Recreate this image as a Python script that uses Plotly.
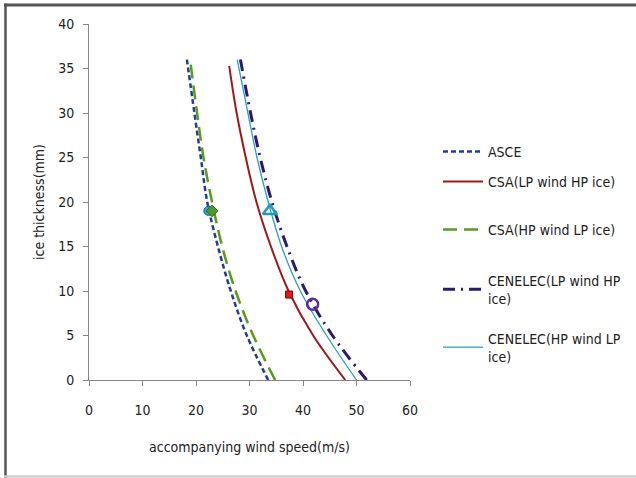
import plotly.graph_objects as go

# ---- data ----
ice_levels = [0, 5, 10, 15, 20, 25, 30, 36]
asce_wind = [33.5, 29.5, 26.5, 24.1, 22.1, 20.9, 19.7, 18.3]
csa_hp_wind = [34.8, 30.7, 27.4, 24.9, 23.0, 21.4, 20.2, 18.9]
csa_lp_ice = [0, 5, 10, 15, 20, 25, 30, 35.3]
csa_lp_wind = [47.9, 41.9, 37.3, 34.0, 31.3, 29.3, 27.6, 26.2]
cen_lp_wind = [51.9, 45.5, 40.5, 37.0, 34.2, 32.0, 30.2, 28.3]
cen_hp_wind = [50.0, 44.4, 39.5, 36.0, 33.5, 31.4, 29.7, 27.7]

# single highlighted points
asce_pt = ([22.3], [19.0])
csa_hp_pt = ([23.0], [19.0])
csa_lp_pt = ([37.4], [9.6])
cen_lp_pt = ([41.8], [8.5])
cen_hp_pt = ([33.8], [19.0])

legend_names = ["ASCE", "CSA(LP wind HP ice)", "CSA(HP wind LP ice)",
                "CENELEC(LP wind HP<br>ice)", "CENELEC(HP wind LP<br>ice)"]

x_ticks = [0, 10, 20, 30, 40, 50, 60]
y_ticks = [0, 5, 10, 15, 20, 25, 30, 35, 40]

FONT = "Liberation Sans Narrow, DejaVu Sans Condensed, Arial Narrow, sans-serif"

W, H = 636, 478
L, R, T, B = 89, 410, 24, 380  # plot area in pixels


def px(x):
    return (x - L) / (R - L)


def py(y):
    return (B - y) / (B - T)


def cy(y):
    return 1 - y / H


fig = go.Figure()

fig.add_trace(go.Scatter(x=asce_wind, y=ice_levels, mode="lines", name=legend_names[0],
                         line=dict(color="#1f3c9a", width=2.5, dash="5px,3px", shape="spline"),
                         legend="legend"))
fig.add_trace(go.Scatter(x=csa_lp_wind, y=csa_lp_ice, mode="lines", name=legend_names[1],
                         line=dict(color="#9b1b1b", width=2, shape="spline"), legend="legend2"))
fig.add_trace(go.Scatter(x=csa_hp_wind, y=ice_levels, mode="lines", name=legend_names[2],
                         line=dict(color="#5a9a1c", width=2.5, dash="14px,7px", shape="spline"),
                         legend="legend3"))
fig.add_trace(go.Scatter(x=cen_lp_wind, y=ice_levels, mode="lines", name=legend_names[3],
                         line=dict(color="#2c1a6c", width=3, dash="12px,6px,2px,6px",
                                   shape="spline"),
                         legend="legend4"))
fig.add_trace(go.Scatter(x=cen_hp_wind, y=ice_levels, mode="lines", name=legend_names[4],
                         line=dict(color="#2b9fc6", width=1.3, shape="spline"), legend="legend5"))

fig.add_trace(go.Scatter(x=asce_pt[0], y=asce_pt[1], mode="markers", showlegend=False,
                         marker=dict(symbol="circle", size=9, color="#29a6dc",
                                     line=dict(color="#1a5f9c", width=1))))
fig.add_trace(go.Scatter(x=csa_hp_pt[0], y=csa_hp_pt[1], mode="markers", showlegend=False,
                         marker=dict(symbol="diamond", size=9, color="#4f9a22",
                                     line=dict(color="#2f6a10", width=1))))
fig.add_trace(go.Scatter(x=csa_lp_pt[0], y=csa_lp_pt[1], mode="markers", showlegend=False,
                         marker=dict(symbol="square", size=7, color="#e31a1a",
                                     line=dict(color="#7a0000", width=1))))
fig.add_trace(go.Scatter(x=cen_lp_pt[0], y=cen_lp_pt[1], mode="markers", showlegend=False,
                         marker=dict(symbol="circle-open", size=11, color="#5b2d9e",
                                     line=dict(color="#5b2d9e", width=2.5))))
fig.add_trace(go.Scatter(x=cen_hp_pt[0], y=cen_hp_pt[1], mode="markers", showlegend=False,
                         marker=dict(symbol="triangle-up-open", size=12, color="#1f9ac4",
                                     line=dict(color="#1f9ac4", width=2.5))))

leg_common = dict(xanchor="left", yanchor="middle", bgcolor="rgba(0,0,0,0)",
                  xref="container", yref="container",
                  font=dict(family=FONT, size=14, color="#222"), itemwidth=40)
leg_y = [152, 182, 230, 289.5, 347.5]
leg_x = 438 / W

fig.update_layout(
    width=W, height=H,
    margin=dict(l=L, r=W - R, t=T, b=H - B, autoexpand=False),
    paper_bgcolor="white", plot_bgcolor="white",
    font=dict(family=FONT, size=14, color="#222"),
    xaxis=dict(range=[0, 60], tickvals=x_ticks, showgrid=False, zeroline=False,
               showline=True, linecolor="#868686", linewidth=1,
               ticks="outside", ticklen=5, tickcolor="#868686",
               ticklabelstandoff=12,
               title=dict(text="accompanying wind speed(m/s)", standoff=25,
                          font=dict(family=FONT, size=14))),
    yaxis=dict(range=[0, 40], tickvals=y_ticks, showgrid=False, zeroline=False,
               showline=True, linecolor="#868686", linewidth=1,
               ticks="outside", ticklen=5, tickcolor="#868686",
               ticklabelstandoff=6,
               title=dict(text="ice thickness(mm)", standoff=10,
                          font=dict(family=FONT, size=14))),
    legend=dict(x=leg_x, y=cy(leg_y[0]), **leg_common),
    legend2=dict(x=leg_x, y=cy(leg_y[1]), **leg_common),
    legend3=dict(x=leg_x, y=cy(leg_y[2]), **leg_common),
    legend4=dict(x=leg_x, y=cy(leg_y[3]), **leg_common),
    legend5=dict(x=leg_x, y=cy(leg_y[4]), **leg_common),
    shapes=[
        dict(type="line", xref="paper", yref="paper", x0=px(4), x1=px(640),
             y0=py(5), y1=py(5), line=dict(color="#555555", width=3),
             layer="above"),
        dict(type="line", xref="paper", yref="paper", x0=px(5.5), x1=px(5.5),
             y0=py(3.5), y1=py(478), line=dict(color="#555555", width=2.5),
             layer="above"),
        dict(type="line", xref="paper", yref="paper", x0=px(4), x1=px(640),
             y0=py(476.5), y1=py(476.5), line=dict(color="#cccccc", width=2.5),
             layer="above"),
    ],
)

fig.write_html("out.html", config={"displayModeBar": False},
               post_script="document.body.style.margin='0';document.body.style.overflow='hidden';")
